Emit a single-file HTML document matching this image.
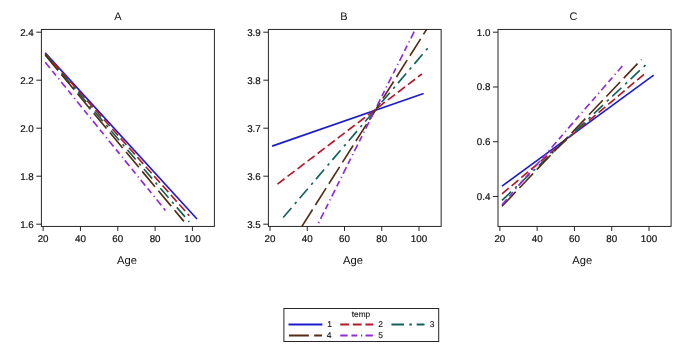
<!DOCTYPE html>
<html><head><meta charset="utf-8"><style>
html,body{margin:0;padding:0;background:#fff;}
body{width:685px;height:350px;overflow:hidden;}
svg{display:block;font-family:"Liberation Sans", sans-serif;}
.t{filter:grayscale(1);}
</style></head><body>
<svg width="685" height="350" viewBox="0 0 685 350">
<rect width="685" height="350" fill="#fff"/>
<defs></defs>
<g>
<clipPath id="cA"><rect x="41.4" y="29.45" width="173.0" height="196.98000000000002"/></clipPath>
<g clip-path="url(#cA)" fill="none" stroke-width="1.65">
<line x1="45.20" y1="52.90" x2="197.00" y2="219.00" stroke="#1c1cd0"/>
<line x1="45.20" y1="53.40" x2="189.30" y2="215.70" stroke="#b41826" stroke-dasharray="8.8 3.825"/>
<line x1="45.20" y1="54.10" x2="189.30" y2="221.90" stroke="#10625a" stroke-dasharray="12.6 5.3 2.5 4.85"/>
<line x1="45.20" y1="55.00" x2="183.90" y2="221.40" stroke="#552d14" stroke-dasharray="20 5.25"/>
<line x1="45.30" y1="62.30" x2="165.40" y2="210.40" stroke="#9028dc" stroke-dasharray="7.3 3.8 5.8 3.8 1.2 3.35"/>
</g>
<rect x="41.4" y="29.45" width="173.0" height="196.98000000000002" fill="none" stroke="#262626" stroke-width="1.0"/>
<line x1="36.3" y1="32.20" x2="41.4" y2="32.20" stroke="#262626" stroke-width="1.0"/>
<line x1="36.3" y1="80.20" x2="41.4" y2="80.20" stroke="#262626" stroke-width="1.0"/>
<line x1="36.3" y1="128.20" x2="41.4" y2="128.20" stroke="#262626" stroke-width="1.0"/>
<line x1="36.3" y1="176.20" x2="41.4" y2="176.20" stroke="#262626" stroke-width="1.0"/>
<line x1="36.3" y1="224.20" x2="41.4" y2="224.20" stroke="#262626" stroke-width="1.0"/>
<line x1="43.14" y1="226.43" x2="43.14" y2="230.93" stroke="#262626" stroke-width="1.0"/>
<line x1="80.46" y1="226.43" x2="80.46" y2="230.93" stroke="#262626" stroke-width="1.0"/>
<line x1="117.78" y1="226.43" x2="117.78" y2="230.93" stroke="#262626" stroke-width="1.0"/>
<line x1="155.10" y1="226.43" x2="155.10" y2="230.93" stroke="#262626" stroke-width="1.0"/>
<line x1="192.42" y1="226.43" x2="192.42" y2="230.93" stroke="#262626" stroke-width="1.0"/>
<clipPath id="cB"><rect x="268.4" y="29.45" width="172.75" height="196.98000000000002"/></clipPath>
<g clip-path="url(#cB)" fill="none" stroke-width="1.65">
<line x1="272.10" y1="146.10" x2="423.60" y2="93.50" stroke="#1c1cd0"/>
<line x1="277.50" y1="184.10" x2="421.90" y2="74.00" stroke="#b41826" stroke-dasharray="8.8 3.825"/>
<line x1="283.20" y1="217.50" x2="427.70" y2="48.30" stroke="#10625a" stroke-dasharray="12.6 5.3 2.5 4.85"/>
<line x1="301.90" y1="226.40" x2="428.00" y2="27.20" stroke="#552d14" stroke-dasharray="20 5.25"/>
<line x1="315.50" y1="229.00" x2="414.25" y2="31.50" stroke="#9028dc" stroke-dasharray="7.3 3.8 5.8 3.8 1.2 3.35" stroke-dashoffset="14.00"/>
</g>
<rect x="268.4" y="29.45" width="172.75" height="196.98000000000002" fill="none" stroke="#262626" stroke-width="1.0"/>
<line x1="263.29999999999995" y1="32.20" x2="268.4" y2="32.20" stroke="#262626" stroke-width="1.0"/>
<line x1="263.29999999999995" y1="80.20" x2="268.4" y2="80.20" stroke="#262626" stroke-width="1.0"/>
<line x1="263.29999999999995" y1="128.20" x2="268.4" y2="128.20" stroke="#262626" stroke-width="1.0"/>
<line x1="263.29999999999995" y1="176.20" x2="268.4" y2="176.20" stroke="#262626" stroke-width="1.0"/>
<line x1="263.29999999999995" y1="224.20" x2="268.4" y2="224.20" stroke="#262626" stroke-width="1.0"/>
<line x1="270.00" y1="226.43" x2="270.00" y2="230.93" stroke="#262626" stroke-width="1.0"/>
<line x1="307.25" y1="226.43" x2="307.25" y2="230.93" stroke="#262626" stroke-width="1.0"/>
<line x1="344.50" y1="226.43" x2="344.50" y2="230.93" stroke="#262626" stroke-width="1.0"/>
<line x1="381.75" y1="226.43" x2="381.75" y2="230.93" stroke="#262626" stroke-width="1.0"/>
<line x1="419.00" y1="226.43" x2="419.00" y2="230.93" stroke="#262626" stroke-width="1.0"/>
<clipPath id="cC"><rect x="498.0" y="29.45" width="173.10000000000002" height="196.98000000000002"/></clipPath>
<g clip-path="url(#cC)" fill="none" stroke-width="1.65">
<line x1="502.00" y1="186.20" x2="653.70" y2="75.20" stroke="#1c1cd0"/>
<line x1="502.00" y1="193.90" x2="646.00" y2="72.60" stroke="#b41826" stroke-dasharray="8.8 3.825"/>
<line x1="502.00" y1="200.30" x2="646.00" y2="64.60" stroke="#10625a" stroke-dasharray="12.6 5.3 2.5 4.85"/>
<line x1="502.00" y1="206.30" x2="641.50" y2="59.50" stroke="#552d14" stroke-dasharray="20 5.25"/>
<line x1="502.00" y1="204.70" x2="622.30" y2="66.00" stroke="#9028dc" stroke-dasharray="7.3 3.8 5.8 3.8 1.2 3.35"/>
</g>
<rect x="498.0" y="29.45" width="173.10000000000002" height="196.98000000000002" fill="none" stroke="#262626" stroke-width="1.0"/>
<line x1="492.9" y1="32.20" x2="498.0" y2="32.20" stroke="#262626" stroke-width="1.0"/>
<line x1="492.9" y1="86.97" x2="498.0" y2="86.97" stroke="#262626" stroke-width="1.0"/>
<line x1="492.9" y1="141.74" x2="498.0" y2="141.74" stroke="#262626" stroke-width="1.0"/>
<line x1="492.9" y1="196.51" x2="498.0" y2="196.51" stroke="#262626" stroke-width="1.0"/>
<line x1="499.86" y1="226.43" x2="499.86" y2="230.93" stroke="#262626" stroke-width="1.0"/>
<line x1="537.15" y1="226.43" x2="537.15" y2="230.93" stroke="#262626" stroke-width="1.0"/>
<line x1="574.44" y1="226.43" x2="574.44" y2="230.93" stroke="#262626" stroke-width="1.0"/>
<line x1="611.73" y1="226.43" x2="611.73" y2="230.93" stroke="#262626" stroke-width="1.0"/>
<line x1="649.02" y1="226.43" x2="649.02" y2="230.93" stroke="#262626" stroke-width="1.0"/>
<rect x="283.9" y="308.5" width="154.8" height="33" fill="none" stroke="#262626" stroke-width="1.0"/>
<g stroke-width="1.8" fill="none">
<line x1="288.5" y1="324.5" x2="322.4" y2="324.5" stroke="#1c1cd0"/>
<line x1="340.2" y1="324.5" x2="373.2" y2="324.5" stroke="#b41826" stroke-dasharray="8.8 3.825"/>
<line x1="391.4" y1="324.5" x2="424.5" y2="324.5" stroke="#10625a" stroke-dasharray="12.6 5.3 2.5 4.85"/>
<line x1="288.9" y1="335.5" x2="322.0" y2="335.5" stroke="#552d14" stroke-dasharray="20 5.25"/>
<line x1="340.3" y1="335.5" x2="373.2" y2="335.5" stroke="#9028dc" stroke-dasharray="7.3 3.8 5.8 3.8 1.2 3.35"/>
</g>
<g class="t" text-rendering="geometricPrecision" fill="#111" stroke="#111" stroke-width="0.2">
<text x="33.8" y="35.65" font-size="9.8" text-anchor="end">2.4</text>
<text x="33.8" y="83.65" font-size="9.8" text-anchor="end">2.2</text>
<text x="33.8" y="131.65" font-size="9.8" text-anchor="end">2.0</text>
<text x="33.8" y="179.65" font-size="9.8" text-anchor="end">1.8</text>
<text x="33.8" y="227.65" font-size="9.8" text-anchor="end">1.6</text>
<text x="43.14" y="241.9" font-size="9.8" text-anchor="middle">20</text>
<text x="80.46" y="241.9" font-size="9.8" text-anchor="middle">40</text>
<text x="117.78" y="241.9" font-size="9.8" text-anchor="middle">60</text>
<text x="155.10" y="241.9" font-size="9.8" text-anchor="middle">80</text>
<text x="192.42" y="241.9" font-size="9.8" text-anchor="middle">100</text>
<text x="118" y="20.1" font-size="11" text-anchor="middle" stroke-width="0.0">A</text>
<text x="127" y="263.8" font-size="11.2" text-anchor="middle" stroke-width="0.0">Age</text>
<text x="260.79999999999995" y="35.65" font-size="9.8" text-anchor="end">3.9</text>
<text x="260.79999999999995" y="83.65" font-size="9.8" text-anchor="end">3.8</text>
<text x="260.79999999999995" y="131.65" font-size="9.8" text-anchor="end">3.7</text>
<text x="260.79999999999995" y="179.65" font-size="9.8" text-anchor="end">3.6</text>
<text x="260.79999999999995" y="227.65" font-size="9.8" text-anchor="end">3.5</text>
<text x="270.00" y="241.9" font-size="9.8" text-anchor="middle">20</text>
<text x="307.25" y="241.9" font-size="9.8" text-anchor="middle">40</text>
<text x="344.50" y="241.9" font-size="9.8" text-anchor="middle">60</text>
<text x="381.75" y="241.9" font-size="9.8" text-anchor="middle">80</text>
<text x="419.00" y="241.9" font-size="9.8" text-anchor="middle">100</text>
<text x="344" y="20.1" font-size="11" text-anchor="middle" stroke-width="0.0">B</text>
<text x="353" y="263.8" font-size="11.2" text-anchor="middle" stroke-width="0.0">Age</text>
<text x="490.4" y="35.65" font-size="9.8" text-anchor="end">1.0</text>
<text x="490.4" y="90.42" font-size="9.8" text-anchor="end">0.8</text>
<text x="490.4" y="145.19" font-size="9.8" text-anchor="end">0.6</text>
<text x="490.4" y="199.96" font-size="9.8" text-anchor="end">0.4</text>
<text x="499.86" y="241.9" font-size="9.8" text-anchor="middle">20</text>
<text x="537.15" y="241.9" font-size="9.8" text-anchor="middle">40</text>
<text x="574.44" y="241.9" font-size="9.8" text-anchor="middle">60</text>
<text x="611.73" y="241.9" font-size="9.8" text-anchor="middle">80</text>
<text x="649.02" y="241.9" font-size="9.8" text-anchor="middle">100</text>
<text x="573.5" y="20.1" font-size="11" text-anchor="middle" stroke-width="0.0">C</text>
<text x="582.2" y="263.8" font-size="11.2" text-anchor="middle" stroke-width="0.0">Age</text>
<text x="361" y="316.7" font-size="8.3" text-anchor="middle" stroke-width="0.1">temp</text>
<text x="327.3" y="327.4" font-size="8.5" stroke-width="0.1">1</text>
<text x="378.3" y="327.4" font-size="8.5" stroke-width="0.1">2</text>
<text x="429.8" y="327.4" font-size="8.5" stroke-width="0.1">3</text>
<text x="326.8" y="338.4" font-size="8.5" stroke-width="0.1">4</text>
<text x="378.3" y="338.4" font-size="8.5" stroke-width="0.1">5</text>
</g>
</g>
</svg>
</body></html>
